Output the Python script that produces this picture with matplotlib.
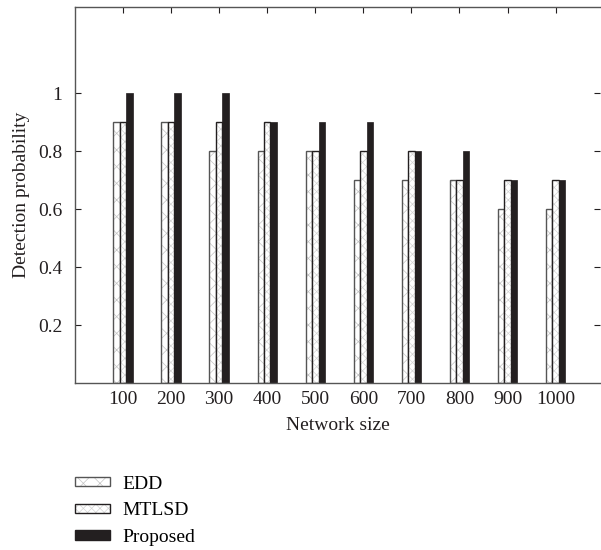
import matplotlib.pyplot as plt
from matplotlib.patches import Patch
from matplotlib.legend_handler import HandlerTuple
import numpy as np

sizes = ['100', '200', '300', '400', '500', '600', '700', '800', '900', '1000']
edd = [0.9, 0.9, 0.8, 0.8, 0.8, 0.7, 0.7, 0.7, 0.6, 0.6]
mtlsd = [0.9, 0.9, 0.9, 0.9, 0.8, 0.8, 0.8, 0.7, 0.7, 0.7]
proposed = [1.0, 1.0, 1.0, 0.9, 0.9, 0.9, 0.8, 0.8, 0.7, 0.7]

plt.rcParams['font.family'] = ['Liberation Serif', 'DejaVu Serif']
plt.rcParams['hatch.linewidth'] = 0.5

fig = plt.figure(figsize=(6.01, 5.5), dpi=100)
ax = fig.add_axes([0.1248, 0.3036, 0.8732, 0.6844])

x = np.arange(1, len(sizes) + 1)
w = 0.135
edge = '#555555'
dark = '#231f20'
fs = 14

# hatch layer then outline layer, so hatch lines stay light
ax.bar(x - w, edd, w, color='white', edgecolor='#c4c4c4', hatch='xx', linewidth=0)
ax.bar(x - w, edd, w, fill=False, edgecolor=edge, linewidth=1.0)
ax.bar(x, mtlsd, w, color='white', edgecolor='#d4d4d4', hatch='xxxx', linewidth=0)
ax.bar(x, mtlsd, w, fill=False, edgecolor=dark, linewidth=1.0)
ax.bar(x + w, proposed, w, color=dark, edgecolor=dark, linewidth=0.5)

ax.set_xlim(0, 10.92)
ax.set_ylim(0, 1.3)
ax.set_xticks(x)
ax.set_xticklabels(sizes)
ax.set_yticks([0.2, 0.4, 0.6, 0.8, 1.0])
ax.set_yticklabels(['0.2', '0.4', '0.6', '0.8', '1'])
ax.tick_params(axis='x', bottom=False, top=True, direction='in', length=4,
               labelsize=fs, colors=dark, pad=6)
ax.tick_params(axis='y', left=True, right=True, direction='in', length=4,
               labelsize=fs, colors=dark, pad=9)
ax.spines['right'].set_visible(False)
for s in ['left', 'top', 'bottom']:
    ax.spines[s].set_color('#555555')
    ax.spines[s].set_linewidth(1.0)

ax.set_xlabel('Network size', fontsize=fs, color=dark, labelpad=6)
ax.set_ylabel('Detection probability', fontsize=fs, color=dark, labelpad=6)

h1 = (Patch(facecolor='white', edgecolor='#c4c4c4', hatch='xx', linewidth=0),
      Patch(fill=False, edgecolor=edge, linewidth=1.0))
h2 = (Patch(facecolor='white', edgecolor='#d4d4d4', hatch='xxxx', linewidth=0),
      Patch(fill=False, edgecolor=dark, linewidth=1.0))
h3 = Patch(facecolor=dark, edgecolor=dark)
fig.legend([h1, h2, h3], ['EDD', 'MTLSD', 'Proposed'],
           handler_map={tuple: HandlerTuple(ndivide=1, pad=0)},
           loc='upper left', bbox_to_anchor=(0.109, 0.153), frameon=False,
           fontsize=fs, handlelength=1.8, handleheight=0.36,
           labelspacing=0.5, handletextpad=0.6, borderpad=0)

fig.savefig('out.png', dpi=100)
